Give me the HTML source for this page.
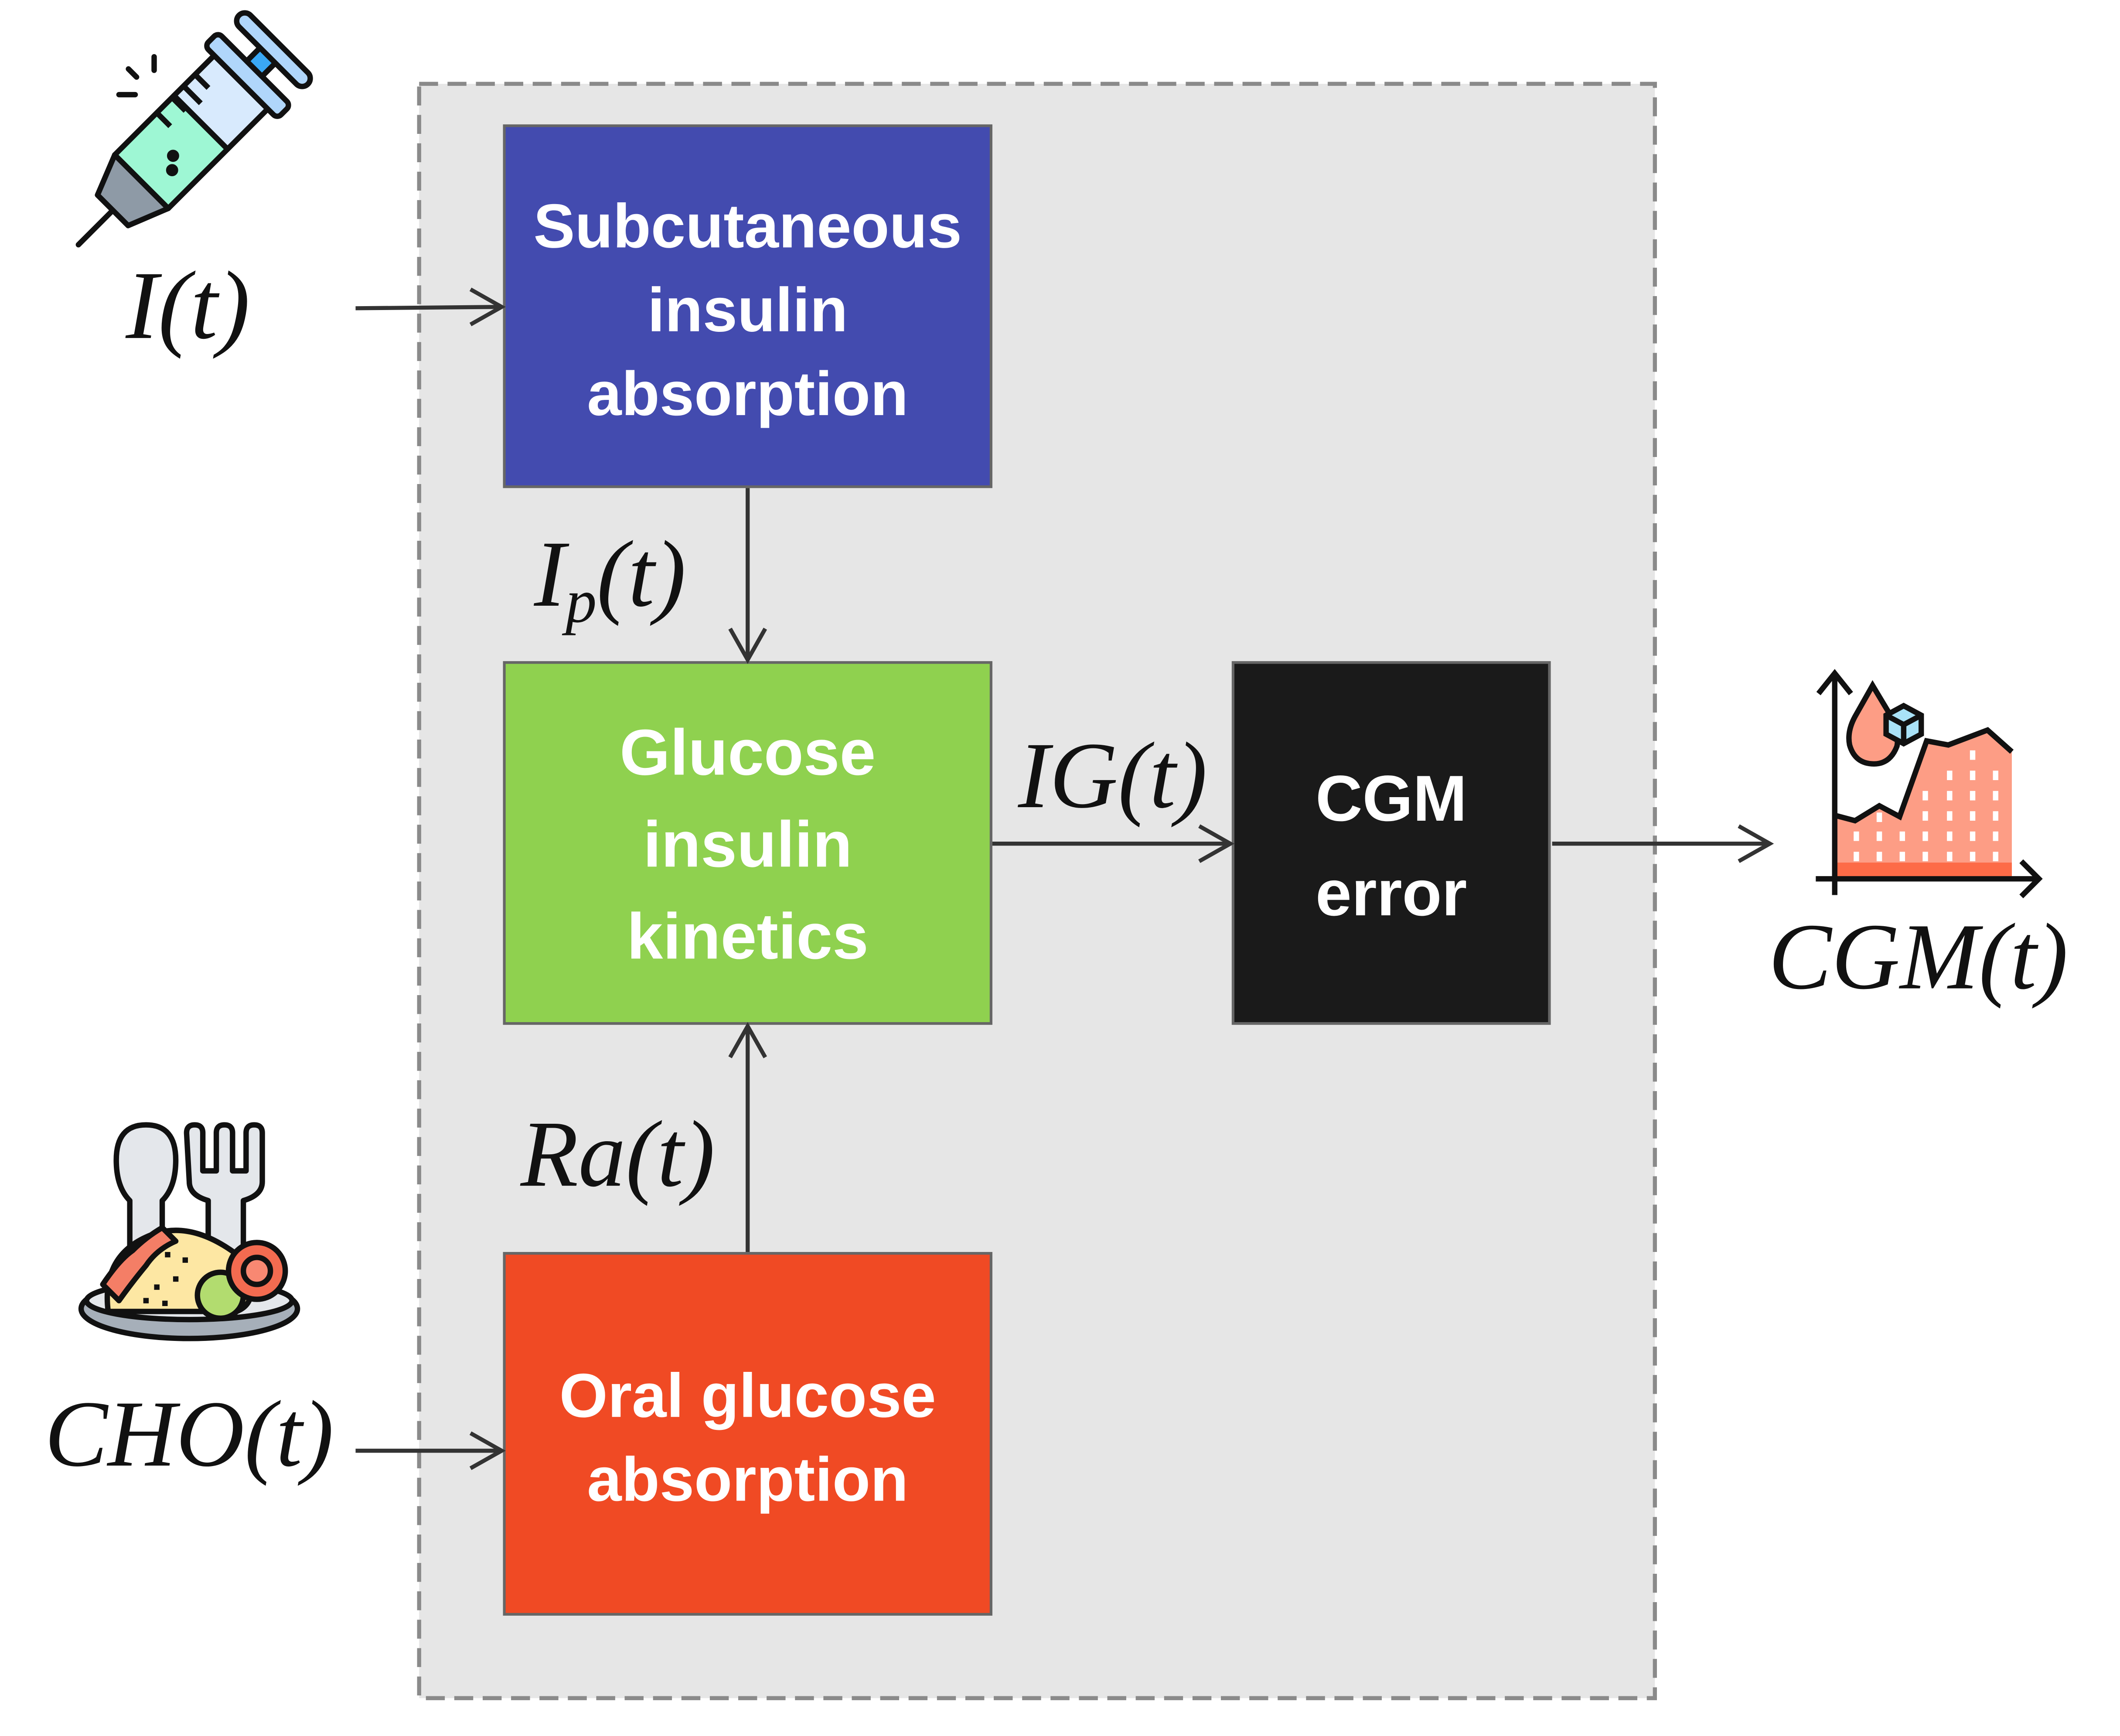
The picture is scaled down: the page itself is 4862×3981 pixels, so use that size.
<!DOCTYPE html>
<html><head><meta charset="utf-8"><style>
html,body{margin:0;padding:0;background:#fff}
svg{display:block}
</style></head><body>
<svg width="4862" height="3981" viewBox="0 0 1568 1284" preserveAspectRatio="none" xmlns="http://www.w3.org/2000/svg">
<rect x="0" y="0" width="1568" height="1284" fill="#fff"/>
<rect x="310" y="62" width="914" height="1194" fill="#e6e6e6" stroke="#8a8a8a" stroke-width="3" stroke-dasharray="14 7"/>
<rect x="373" y="93" width="360" height="267" fill="#434baf" stroke="#666" stroke-width="2"/>
<rect x="373" y="490" width="360" height="267" fill="#8fd14f" stroke="#666" stroke-width="2"/>
<rect x="373" y="927" width="360" height="267" fill="#f04a24" stroke="#666" stroke-width="2"/>
<rect x="912" y="490" width="234" height="267" fill="#1a1a1a" stroke="#666" stroke-width="2"/>
<g font-family="'Liberation Sans',sans-serif" font-weight="bold" fill="#fff" text-anchor="middle">
<text x="553" y="183" font-size="46">Subcutaneous</text>
<text x="553" y="245" font-size="46">insulin</text>
<text x="553" y="307" font-size="46">absorption</text>
<text x="553" y="573" font-size="48">Glucose</text>
<text x="553" y="641" font-size="48">insulin</text>
<text x="553" y="709" font-size="48">kinetics</text>
<text x="553" y="1048" font-size="46">Oral glucose</text>
<text x="553" y="1110" font-size="46">absorption</text>
<text x="1029" y="607" font-size="48">CGM</text>
<text x="1029" y="677" font-size="48">error</text>
</g>
<g stroke="#333" stroke-width="3" fill="none">
<line x1="263" y1="228" x2="370" y2="227"/><path d="M348 214 L371 227 L348 240"/>
<line x1="553" y1="361" x2="553" y2="487"/><path d="M540 465 L553 488 L566 465"/>
<line x1="553" y1="926" x2="553" y2="760"/><path d="M540 782 L553 759 L566 782"/>
<line x1="734" y1="624" x2="909" y2="624"/><path d="M887 611 L910 624 L887 637"/>
<line x1="1148" y1="624" x2="1308" y2="624"/><path d="M1286 611 L1309 624 L1286 637"/>
<line x1="263" y1="1073" x2="370" y2="1073"/><path d="M348 1060 L371 1073 L348 1086"/>
</g>
<g font-family="'Liberation Serif',serif" font-style="italic" fill="#111">
<text x="93" y="250" font-size="72">I(t)</text>
<text x="395" y="448" font-size="70">I<tspan font-size="46" dy="12">p</tspan><tspan dy="-12">(t)</tspan></text>
<text x="753" y="597" font-size="70">IG(t)</text>
<text x="385" y="877" font-size="70">Ra(t)</text>
<text x="1308" y="731" font-size="70">CGM(t)</text>
<text x="33" y="1084" font-size="70">CHO(t)</text>
</g>
<!-- syringe -->
<g transform="translate(58,181) rotate(-45)" stroke="#111" stroke-width="4" stroke-linejoin="round">
<line x1="0" y1="0" x2="40" y2="0" stroke-linecap="round"/>
<path d="M36 -16 L66 -28 L66 28 L36 16 Z" fill="#8e9aa6"/>
<rect x="66" y="-28" width="62" height="56" fill="#9ef7d4"/>
<rect x="128" y="-28" width="42" height="56" fill="#d8eafd"/>
<rect x="170" y="-38" width="14" height="76" rx="4" fill="#b0d6fb"/>
<rect x="184" y="-8" width="14" height="16" fill="#3aa8f5"/>
<rect x="198" y="-36" width="12" height="72" rx="6" fill="#b0d6fb"/>
<line x1="150" y1="-28" x2="150" y2="-14"/><line x1="138" y1="-28" x2="138" y2="-10"/><line x1="126" y1="-28" x2="126" y2="-14"/><line x1="110" y1="-28" x2="110" y2="-14"/>
<circle cx="88" cy="10" r="2.5" fill="#111"/><circle cx="96" cy="3" r="2.5" fill="#111"/>
</g>
<g stroke="#111" stroke-width="4" stroke-linecap="round">
<line x1="88" y1="70" x2="100" y2="70"/><line x1="95" y1="51" x2="101" y2="57"/><line x1="114" y1="42" x2="114" y2="52"/>
</g>
<!-- food -->
<g stroke="#111" stroke-width="4" stroke-linejoin="round">
<ellipse cx="140" cy="968" rx="80" ry="22" fill="#a6afb9"/>
<ellipse cx="140" cy="962" rx="76" ry="14" fill="#e4e7eb"/>
<path d="M96 925 L96 888 Q86 878 86 858 Q86 832 108 832 Q130 832 130 858 Q130 878 120 888 L120 925 Z" fill="#e4e7eb"/>
<path d="M138 838 Q138 832 144 832 Q150 832 150 838 L150 866 L160 866 L160 838 Q160 832 166 832 Q172 832 172 838 L172 866 L182 866 L182 838 Q182 832 188 832 Q194 832 194 838 L194 874 Q194 884 180 888 L180 928 L154 928 L154 888 Q140 884 140 874 Z" fill="#e4e7eb"/>
<path d="M80 970 Q75 930 108 915 Q140 900 178 930 Q195 962 175 970 Z" fill="#fde7a3"/>
<path d="M76 950 Q88 932 98 925 Q108 915 120 908 L130 918 Q116 924 108 936 Q98 948 88 962 Z" fill="#f47e66"/>
<circle cx="163" cy="958" r="17" fill="#b2dc6f"/>
<circle cx="190" cy="940" r="21" fill="#f36b50"/>
<circle cx="190" cy="940" r="10" fill="#f88872"/>
</g>
<g fill="#111"><rect x="122" y="926" width="4" height="4"/><rect x="135" y="930" width="4" height="4"/><rect x="114" y="950" width="4" height="4"/><rect x="128" y="944" width="4" height="4"/><rect x="106" y="960" width="4" height="4"/><rect x="120" y="962" width="4" height="4"/></g>
<!-- chart -->
<polygon points="1357,603 1372,607 1390,596 1405,604 1425,548 1441,551 1470,540 1488,556 1488,650 1357,650" fill="#fd9d85"/>
<rect x="1357" y="638" width="131" height="10" fill="#fd6b47"/>
<g fill="#fff">
<rect x="1371" y="615" width="4" height="7"/><rect x="1388" y="615" width="4" height="7"/><rect x="1405" y="615" width="4" height="7"/><rect x="1422" y="615" width="4" height="7"/><rect x="1440" y="615" width="4" height="7"/><rect x="1457" y="615" width="4" height="7"/><rect x="1474" y="615" width="4" height="7"/>
<rect x="1371" y="630" width="4" height="7"/><rect x="1388" y="630" width="4" height="7"/><rect x="1405" y="630" width="4" height="7"/><rect x="1422" y="630" width="4" height="7"/><rect x="1440" y="630" width="4" height="7"/><rect x="1457" y="630" width="4" height="7"/><rect x="1474" y="630" width="4" height="7"/>
<rect x="1388" y="601" width="4" height="7"/><rect x="1422" y="600" width="4" height="7"/><rect x="1440" y="600" width="4" height="7"/><rect x="1457" y="600" width="4" height="7"/><rect x="1474" y="600" width="4" height="7"/><rect x="1422" y="585" width="4" height="7"/><rect x="1440" y="585" width="4" height="7"/><rect x="1457" y="585" width="4" height="7"/><rect x="1474" y="585" width="4" height="7"/><rect x="1440" y="570" width="4" height="7"/><rect x="1457" y="570" width="4" height="7"/><rect x="1474" y="570" width="4" height="7"/><rect x="1457" y="555" width="4" height="7"/>
</g>
<g stroke="#111" stroke-width="4" fill="none">
<line x1="1357" y1="498" x2="1357" y2="662"/><path d="M1345 513 L1357 498 L1369 513"/>
<line x1="1343" y1="650" x2="1508" y2="650"/><path d="M1495 637 L1508 650 L1495 663"/>
<polyline points="1357,603 1372,607 1390,596 1405,604 1425,548 1441,551 1470,540 1488,556"/>
<path d="M1385 507 L1372 530 Q1366 541 1368 551 Q1372 565 1386 565 Q1398 565 1403 552 Q1405 544 1397 527 Z" fill="#fd9d85"/>
<path d="M1408 522 L1421 529 L1421 543 L1408 550 L1395 543 L1395 529 Z" fill="#a9e2f7"/>
<path d="M1395 529 L1408 536 L1421 529 M1408 536 L1408 550"/>
</g>
</svg>
</body></html>
